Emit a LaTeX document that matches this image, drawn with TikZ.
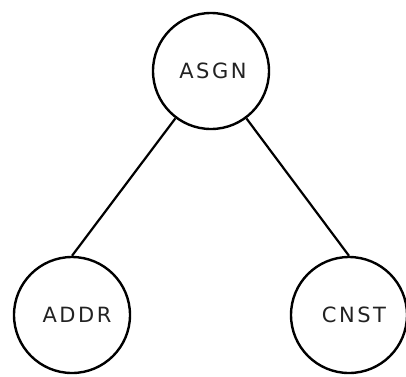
\documentclass[tikz,border=0pt]{standalone}
\usepackage{fontspec}
\newfontfamily\treefont{DejaVu Sans}[LetterSpace=12]
\usepackage{xcolor}
\definecolor{Ink}{HTML}{222222}
\usetikzlibrary{positioning}
\tikzset{
  treenode/.style={circle,draw=black,line width=1.2pt,minimum size=58pt,
    inner sep=0pt,font=\treefont\fontsize{10.5}{12}\selectfont,text=Ink},
  treeedge/.style={draw=black,line width=1.1pt}
}
\begin{document}
\begin{tikzpicture}[x=0.5pt,y=-0.5pt]
  \useasboundingbox (0,0) rectangle (406,376);
  \node[treenode] (asgn) at (211,71) {\hspace*{2pt}ASGN};
  \node[treenode] (addr) at (72,315) {\hspace*{5pt}ADDR};
  \node[treenode] (cnst) at (349,315) {\hspace*{5pt}CNST};
  \draw[treeedge] (asgn) -- (addr.north);
  \draw[treeedge] (asgn) -- (cnst.north);
\end{tikzpicture}
\end{document}
